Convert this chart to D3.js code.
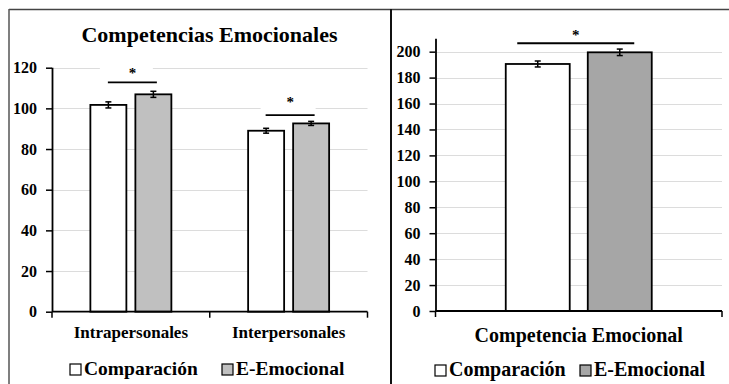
<!DOCTYPE html>
<html>
<head>
<meta charset="utf-8">
<script src="https://cdn.jsdelivr.net/npm/d3@7"></script>
<style>
  html, body { margin: 0; padding: 0; background: #fff; }
  svg { display: block; }
  text { font-family: "Liberation Serif", "Times New Roman", serif; font-weight: bold; fill: #000; }
</style>
</head>
<body>
<svg id="fig" width="729" height="384"></svg>
<script>
// ---- Data ----
const series = ["Comparación", "E-Emocional"];

// Panel A: sub-scales
const subCategories = ["Intrapersonales", "Interpersonales"];
const subComparacion = [101.7, 89.0];
const subEmocional = [106.9, 92.6];
const subErrComparacion = [1.5, 1.2];
const subErrEmocional = [1.5, 1.0];
const subSigLevel = [112.8, 96.7];
const subTicks = [0, 20, 40, 60, 80, 100, 120];

// Panel B: total score
const totCategories = ["Competencia Emocional"];
const totComparacion = [190.5];
const totEmocional = [199.5];
const totErrComparacion = [2.3];
const totErrEmocional = [2.5];
const totSigLevel = [206.5];
const totTicks = [0, 20, 40, 60, 80, 100, 120, 140, 160, 180, 200];

const svg = d3.select("#fig");
const SERIF = "Liberation Serif, Times New Roman, serif";

// ---- Frame ----
svg.append("line").attr("x1", 9).attr("x2", 729).attr("y1", 9.5).attr("y2", 9.5)
  .attr("stroke", "#444").attr("stroke-width", 1.5);
svg.append("line").attr("x1", 9).attr("x2", 9).attr("y1", 9).attr("y2", 384)
  .attr("stroke", "#555").attr("stroke-width", 1.5);
svg.append("line").attr("x1", 391).attr("x2", 391).attr("y1", 9).attr("y2", 384)
  .attr("stroke", "#111").attr("stroke-width", 2);

function drawPanel(cfg) {
  const g = svg.append("g");
  const y = d3.scaleLinear().domain(cfg.yDomain).range(cfg.yRange);
  const x = d3.scaleBand().domain(cfg.categories).range(cfg.xRange).padding(0);
  const xs = d3.scaleBand().domain(series)
    .range([-cfg.groupWidth / 2, cfg.groupWidth / 2]).paddingInner(cfg.innerPad);
  const center = c => x(c) + x.bandwidth() / 2;

  // gridlines
  g.append("g").selectAll("line").data(cfg.ticks.filter(t => t > 0)).join("line")
    .attr("x1", cfg.xRange[0]).attr("x2", cfg.xRange[1])
    .attr("y1", d => Math.round(y(d)) + 0.5).attr("y2", d => Math.round(y(d)) + 0.5)
    .attr("stroke", "#dcdcdc").attr("stroke-width", 1.2);

  // white label boxes for significance marks (they cover the grid)
  cfg.categories.forEach((c, i) => {
    if (cfg.sigBox) {
      const b = cfg.sigBox[i];
      g.append("rect").attr("x", center(c) + b[0]).attr("y", y(cfg.sig[i]) + b[1])
        .attr("width", b[2]).attr("height", b[3]).attr("fill", "#fff");
    }
  });

  // bars
  const rows = cfg.categories.map((c, i) => [
    { cat: c, s: series[0], v: cfg.comp[i], e: cfg.errComp[i], fill: "#ffffff" },
    { cat: c, s: series[1], v: cfg.emo[i], e: cfg.errEmo[i], fill: cfg.grey }
  ]).flat();

  g.append("g").selectAll("rect").data(rows).join("rect")
    .attr("x", d => center(d.cat) + xs(d.s))
    .attr("y", d => y(d.v))
    .attr("width", xs.bandwidth())
    .attr("height", d => y(0) - y(d.v))
    .attr("fill", d => d.fill)
    .attr("stroke", "#000").attr("stroke-width", 1.8);

  // error bars
  const eb = g.append("g").attr("stroke", "#000").attr("stroke-width", 1.5);
  rows.forEach(d => {
    const cx = center(d.cat) + xs(d.s) + xs.bandwidth() / 2;
    eb.append("line").attr("x1", cx).attr("x2", cx).attr("y1", y(d.v + d.e)).attr("y2", y(d.v - d.e));
    eb.append("line").attr("x1", cx - 3).attr("x2", cx + 3).attr("y1", y(d.v + d.e)).attr("y2", y(d.v + d.e));
    eb.append("line").attr("x1", cx - 3).attr("x2", cx + 3).attr("y1", y(d.v - d.e)).attr("y2", y(d.v - d.e));
  });

  // significance bars and stars
  cfg.categories.forEach((c, i) => {
    const ly = y(cfg.sig[i]);
    g.append("line")
      .attr("x1", center(c) + cfg.sigSpan[0]).attr("x2", center(c) + cfg.sigSpan[1])
      .attr("y1", ly).attr("y2", ly).attr("stroke", "#000").attr("stroke-width", 1.8);
    g.append("text").attr("x", center(c) + (cfg.sigSpan[0] + cfg.sigSpan[1]) / 2)
      .attr("y", ly - cfg.starLift[i]).attr("text-anchor", "middle")
      .attr("font-size", 15).text("*");
  });

  // y axis
  const yAxis = g.append("g").attr("transform", `translate(${cfg.xRange[0]},0)`)
    .call(d3.axisLeft(y).tickValues(cfg.ticks).tickSize(6).tickPadding(9).tickSizeOuter(0))
    .attr("font-family", SERIF).attr("font-size", 16).attr("font-weight", "bold");
  yAxis.select(".domain").attr("stroke", "#000").attr("stroke-width", 1.8)
    .attr("d", `M0.5,${y(0)}V${y(cfg.yDomain[1])}`);
  yAxis.selectAll(".tick line").attr("stroke", "#000").attr("stroke-width", 1.5);
  yAxis.selectAll(".tick text").style("font-family", SERIF).style("font-size", "16px")
    .style("font-weight", "bold").attr("fill", "#000");

  // x axis with boundary ticks
  const y0 = y(0);
  g.append("line").attr("x1", cfg.xRange[0]).attr("x2", cfg.xRange[1])
    .attr("y1", y0).attr("y2", y0).attr("stroke", "#000").attr("stroke-width", 1.8);
  const bounds = [cfg.xRange[0]].concat(cfg.categories.map(c => x(c) + x.bandwidth()));
  g.append("g").selectAll("line").data(bounds).join("line")
    .attr("x1", d => d).attr("x2", d => d).attr("y1", y0).attr("y2", y0 + 6)
    .attr("stroke", "#000").attr("stroke-width", 1.5);

  // category labels
  g.append("g").selectAll("text").data(cfg.categories).join("text")
    .attr("x", d => center(d)).attr("y", cfg.catY).attr("text-anchor", "middle")
    .attr("font-size", cfg.catSize).text(d => d);

  // legend
  const lg = g.append("g");
  cfg.legend.forEach((L, i) => {
    lg.append("rect").attr("x", L[0]).attr("y", cfg.legendY - 11).attr("width", 11).attr("height", 11)
      .attr("fill", i === 0 ? "#fff" : cfg.grey).attr("stroke", "#000").attr("stroke-width", 1.2);
    lg.append("text").attr("x", L[0] + 14).attr("y", cfg.legendY)
      .attr("font-size", cfg.legendSize).text(series[i]);
  });
  return g;
}

// Panel A
drawPanel({
  categories: subCategories, comp: subComparacion, emo: subEmocional,
  errComp: subErrComparacion, errEmo: subErrEmocional, sig: subSigLevel,
  ticks: subTicks, yDomain: [0, 120], yRange: [311.7, 67.7],
  xRange: [52, 367.5], groupWidth: 81, innerPad: 0.2, grey: "#c0c0c0",
  sigSpan: [-23, 26], starLift: [4, 8],
  sigBox: [[-31, -18, 53, 16], [-28, -17, 55, 14]],
  catY: 338, catSize: 17,
  legend: [[70], [222]], legendY: 375, legendSize: 19.5
});

// Panel B
drawPanel({
  categories: totCategories, comp: totComparacion, emo: totEmocional,
  errComp: totErrComparacion, errEmo: totErrEmocional, sig: totSigLevel,
  ticks: totTicks, yDomain: [0, 210], yRange: [311, 38.7],
  xRange: [435.5, 722], groupWidth: 146, innerPad: 0.22, grey: "#a6a6a6",
  sigSpan: [-61.5, 55.5], starLift: [3],
  catY: 341.5, catSize: 20,
  legend: [[435], [580]], legendY: 376, legendSize: 20
});

// Title of panel A
svg.append("text").attr("x", 209.5).attr("y", 41.7).attr("text-anchor", "middle")
  .attr("font-size", 22).text("Competencias Emocionales");
</script>
</body>
</html>
